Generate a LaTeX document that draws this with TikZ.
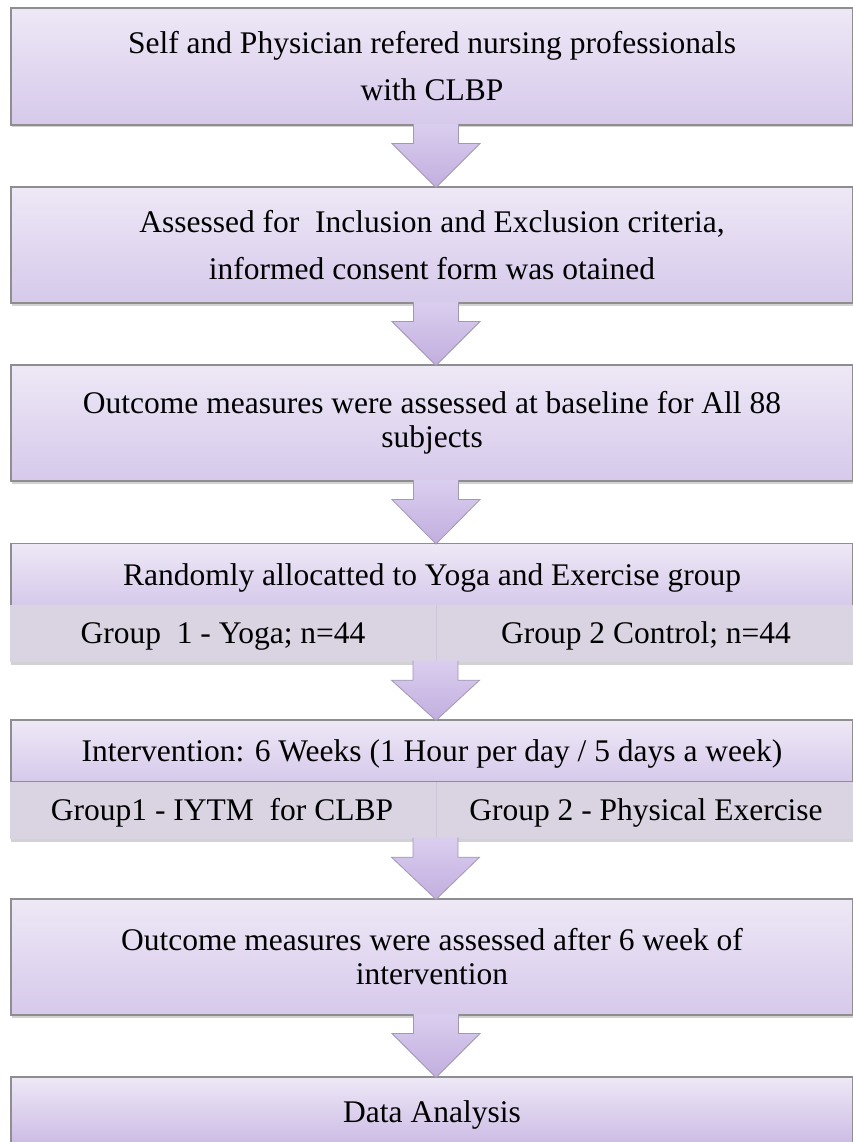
\documentclass[tikz,border=0pt]{standalone}
\usepackage{fontspec}
\setmainfont{Liberation Serif}
\usetikzlibrary{calc,shadows}
\definecolor{boxtop}{HTML}{EEE8F6}
\definecolor{boxbot}{HTML}{D6C9EB}
\definecolor{boxbotdeep}{HTML}{CBBAE5}
\definecolor{bandfill}{HTML}{DAD4E2}
\definecolor{divcol}{HTML}{CEC7DA}
\definecolor{edgegray}{HTML}{8E8E8E}
\definecolor{arrtop}{HTML}{DACEEF}
\definecolor{arrbot}{HTML}{C2AEDF}
\definecolor{arredge}{HTML}{A198B2}
\newcommand\flowarrow[2]{%
  \path[flowarr]
    ($(#1.south)+(-18.5,-1.5)$) -- ($(#1.south)+(-18.5,18)$) --
    ($(#1.south)+(-40,18)$) -- ($(#2.north)+(4,1)$) --
    ($(#1.south)+(48,18)$) -- ($(#1.south)+(26.5,18)$) --
    ($(#1.south)+(26.5,-1.5)$);}
\begin{document}
\begin{tikzpicture}[x=1pt,y=-1pt,
  stagebox/.style={draw=edgegray, line width=1.1pt, top color=boxtop,
    bottom color=boxbot, minimum width=842pt, inner sep=0pt, align=center,
    font=\fontsize{31.5}{47}\selectfont,
    drop shadow={opacity=0.35, shadow xshift=0.5pt, shadow yshift=-2.5pt}},
  tightspace/.style={font=\fontsize{31.5}{34}\selectfont},
  oneline/.style={text height=21pt, text depth=0pt},
  bandbox/.style={fill=bandfill, minimum width=843pt, inner sep=0pt,
    drop shadow={opacity=0.35, shadow xshift=0.5pt, shadow yshift=-2.5pt}},
  celltext/.style={inner sep=0pt, font=\fontsize{31.5}{34}\selectfont,
    text height=21pt, text depth=0pt},
  divline/.style={draw=divcol, line width=0.8pt},
  flowarr/.style={top color=arrtop, bottom color=arrbot, draw=arredge,
    line width=0.8pt, line join=miter}
]
\fill[white] (0,0) rectangle (852,1142);
\useasboundingbox (0,0) rectangle (852,1142);

\node[stagebox, minimum height=117pt] (b1) at (432,66.5)
  {Self and Physician refered nursing professionals\\with CLBP};
\node[stagebox, minimum height=116pt] (b2) at (432,245)
  {Assessed for\ \ Inclusion and Exclusion criteria,\\informed consent form was otained};
\node[stagebox, tightspace, minimum height=116pt] (b3) at (432,423)
  {Outcome measures were assessed at baseline for All 88\\subjects};

\node[stagebox, oneline, minimum height=62pt] (b4) at (432,574.5)
  {Randomly allocatted to Yoga and Exercise group};
\node[bandbox, minimum height=57pt] (g4) at (431.5,633.5) {};
\draw[divline] ($(g4.north)+(5,0)$) -- ($(g4.south)+(5,0)$);
\node[celltext] (g4l) at (223,633) {Group\ \ 1 - Yoga; n=44};
\node[celltext] (g4r) at (646,633) {Group 2 Control; n=44};

\node[stagebox, oneline, minimum height=62pt] (b5) at (432,751)
  {Intervention: 6 Weeks (1 Hour per day / 5 days a week)};
\node[bandbox, minimum height=57pt] (g5) at (431.5,810.5) {};
\draw[divline] ($(g5.north)+(5,0)$) -- ($(g5.south)+(5,0)$);
\node[celltext] (g5l) at (222,810) {Group1 - IYTM\ \ for CLBP};
\node[celltext] (g5r) at (646,810) {Group 2 - Physical Exercise};

\node[stagebox, tightspace, minimum height=116pt] (b6) at (432,957)
  {Outcome measures were assessed after 6 week of\\intervention};
\node[stagebox, oneline, minimum height=69pt, bottom color=boxbotdeep] (b7) at (432,1111.5)
  {Data Analysis};

\flowarrow{b1}{b2}
\flowarrow{b2}{b3}
\flowarrow{b3}{b4}
\flowarrow{g4}{b5}
\flowarrow{g5}{b6}
\flowarrow{b6}{b7}
\end{tikzpicture}
\end{document}
